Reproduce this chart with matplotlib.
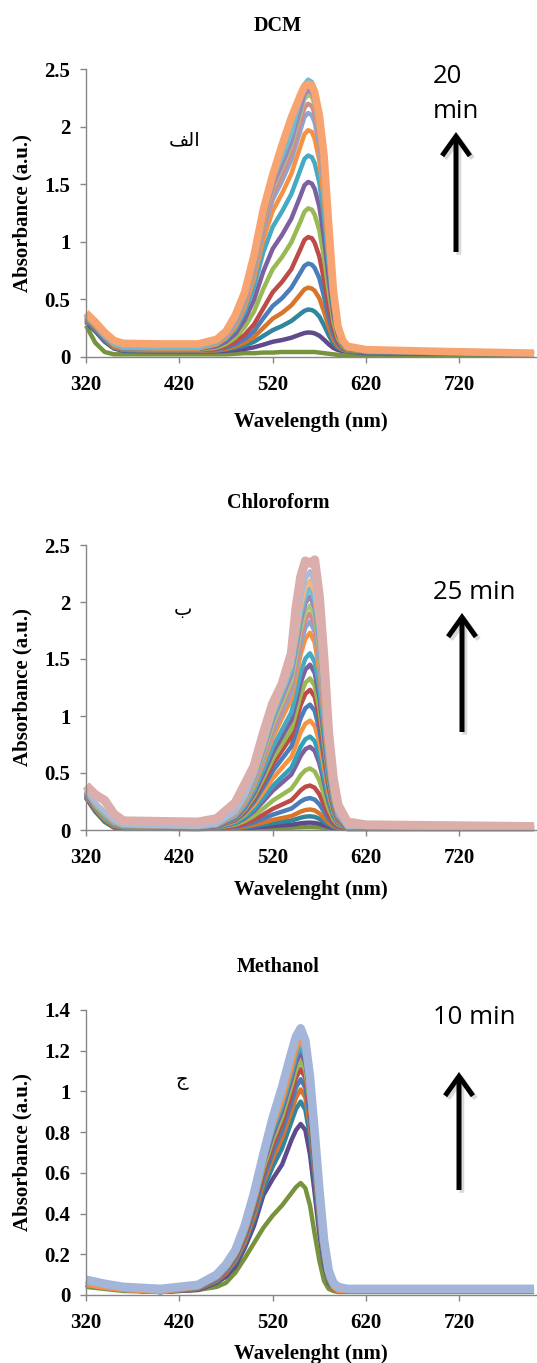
#!/usr/bin/env python
"""
Time-resolved UV-Vis spectra in three solvents (DCM, chloroform, methanol).
Three stacked panels, one line per scan, last scan drawn thick on top.
"""
import matplotlib
matplotlib.use("Agg")
import matplotlib.pyplot as plt
import matplotlib.patheffects as pe
from matplotlib.patches import FancyArrowPatch

# ── axis / text data ─────────────────────────────────────────────
xticks = [320, 420, 520, 620, 720]
yticks_25 = [0, 0.5, 1, 1.5, 2, 2.5]
yticklabels_25 = ["0", "0.5", "1", "1.5", "2", "2.5"]
yticks_14 = [0, 0.2, 0.4, 0.6, 0.8, 1.0, 1.2, 1.4]
yticklabels_14 = ["0", "0.2", "0.4", "0.6", "0.8", "1", "1.2", "1.4"]

titles = ["DCM", "Chloroform", "Methanol"]
xlabels = ["Wavelength (nm)", "Wavelenght (nm)", "Wavelenght (nm)"]
ylabel = "Absorbance (a.u.)"
time_labels = [["20", "min"], ["25 min"], ["10 min"]]
# panel letters (alef-lam-feh is given in its joined display forms,
# matplotlib does not shape Arabic itself)
panel_letters = ["\ufed2\ufedf\ufe8d", "ب", "ج"]

# ── DCM: 16 scans ────────────────────────────────────────────────
dcm_wl = [320, 330, 340, 350, 360, 400, 440, 460, 470, 480, 490, 500, 510, 520,
          530, 540, 550, 554, 558, 562, 565, 570, 575, 580, 585, 590, 595, 600,
          620, 700, 800]
dcm_abs = [
    [0.27, 0.12, 0.04, 0.02, 0.02, 0.02, 0.02, 0.02, 0.02, 0.025, 0.03, 0.03, 0.035, 0.035,
     0.04, 0.04, 0.04, 0.04, 0.04, 0.04, 0.04, 0.035, 0.03, 0.025, 0.02, 0.015, 0.01, 0.01,
     0.01, 0.01, 0.01],
    [0.30, 0.22, 0.13, 0.07, 0.05, 0.045, 0.045, 0.047, 0.05, 0.057, 0.066, 0.081, 0.104, 0.129,
     0.144, 0.164, 0.194, 0.205, 0.21, 0.208, 0.202, 0.182, 0.147, 0.108, 0.075, 0.057, 0.048, 0.045,
     0.03, 0.025, 0.02],
    [0.31, 0.23, 0.14, 0.08, 0.055, 0.05, 0.05, 0.054, 0.061, 0.075, 0.097, 0.129, 0.18, 0.23,
     0.266, 0.31, 0.374, 0.398, 0.41, 0.405, 0.392, 0.349, 0.273, 0.187, 0.115, 0.075, 0.057, 0.05,
     0.035, 0.03, 0.02],
    [0.32, 0.24, 0.15, 0.08, 0.06, 0.05, 0.05, 0.055, 0.067, 0.089, 0.122, 0.171, 0.25, 0.33,
     0.38, 0.446, 0.545, 0.585, 0.60, 0.592, 0.573, 0.507, 0.391, 0.259, 0.149, 0.089, 0.061, 0.05,
     0.04, 0.03, 0.02],
    [0.32, 0.24, 0.15, 0.09, 0.06, 0.055, 0.055, 0.063, 0.078, 0.108, 0.153, 0.221, 0.334, 0.44,
     0.508, 0.599, 0.735, 0.79, 0.81, 0.80, 0.772, 0.682, 0.523, 0.342, 0.191, 0.108, 0.07, 0.055,
     0.04, 0.03, 0.02],
    [0.33, 0.25, 0.16, 0.09, 0.065, 0.06, 0.06, 0.07, 0.09, 0.13, 0.19, 0.28, 0.42, 0.56,
     0.65, 0.76, 0.94, 1.015, 1.04, 1.03, 0.99, 0.87, 0.67, 0.43, 0.24, 0.13, 0.08, 0.06,
     0.045, 0.035, 0.025],
    [0.33, 0.25, 0.16, 0.09, 0.065, 0.06, 0.06, 0.078, 0.109, 0.165, 0.257, 0.392, 0.589, 0.761,
     0.866, 0.995, 1.179, 1.26, 1.29, 1.278, 1.235, 1.099, 0.86, 0.564, 0.306, 0.158, 0.091, 0.06,
     0.045, 0.035, 0.025],
    [0.34, 0.25, 0.16, 0.095, 0.07, 0.065, 0.065, 0.091, 0.13, 0.199, 0.32, 0.494, 0.742, 0.938,
     1.059, 1.2, 1.404, 1.49, 1.52, 1.505, 1.459, 1.305, 1.033, 0.683, 0.371, 0.189, 0.106, 0.065,
     0.05, 0.035, 0.025],
    [0.34, 0.26, 0.17, 0.10, 0.075, 0.07, 0.07, 0.104, 0.154, 0.238, 0.389, 0.608, 0.91, 1.128,
     1.263, 1.414, 1.632, 1.72, 1.75, 1.735, 1.683, 1.515, 1.212, 0.809, 0.44, 0.221, 0.12, 0.07,
     0.05, 0.04, 0.025],
    [0.35, 0.26, 0.17, 0.10, 0.075, 0.07, 0.07, 0.108, 0.165, 0.26, 0.431, 0.678, 1.02, 1.267,
     1.419, 1.59, 1.837, 1.935, 1.97, 1.955, 1.894, 1.704, 1.362, 0.906, 0.488, 0.241, 0.127, 0.07,
     0.05, 0.04, 0.03],
    [0.35, 0.27, 0.17, 0.11, 0.085, 0.08, 0.08, 0.121, 0.182, 0.284, 0.468, 0.733, 1.1, 1.365,
     1.528, 1.712, 1.977, 2.085, 2.12, 2.10, 2.038, 1.834, 1.467, 0.978, 0.529, 0.264, 0.141, 0.08,
     0.055, 0.04, 0.03],
    [0.35, 0.27, 0.18, 0.11, 0.085, 0.08, 0.08, 0.122, 0.186, 0.292, 0.483, 0.758, 1.14, 1.416,
     1.585, 1.776, 2.052, 2.165, 2.20, 2.18, 2.115, 1.903, 1.522, 1.013, 0.546, 0.271, 0.144, 0.08,
     0.055, 0.04, 0.03],
    [0.36, 0.27, 0.18, 0.11, 0.085, 0.08, 0.08, 0.124, 0.19, 0.30, 0.498, 0.784, 1.18, 1.466,
     1.642, 1.84, 2.126, 2.24, 2.28, 2.26, 2.192, 1.972, 1.576, 1.048, 0.564, 0.278, 0.146, 0.08,
     0.055, 0.04, 0.03],
    [0.36, 0.27, 0.18, 0.11, 0.085, 0.08, 0.08, 0.125, 0.192, 0.304, 0.506, 0.797, 1.20, 1.491,
     1.67, 1.872, 2.163, 2.28, 2.32, 2.30, 2.23, 2.006, 1.603, 1.066, 0.573, 0.282, 0.147, 0.08,
     0.055, 0.04, 0.03],
    [0.36, 0.28, 0.18, 0.11, 0.085, 0.08, 0.08, 0.127, 0.197, 0.313, 0.523, 0.826, 1.245, 1.548,
     1.734, 1.944, 2.247, 2.37, 2.41, 2.39, 2.317, 2.084, 1.664, 1.105, 0.593, 0.29, 0.15, 0.08,
     0.055, 0.04, 0.03],
    [0.38, 0.30, 0.21, 0.14, 0.115, 0.11, 0.11, 0.15, 0.22, 0.36, 0.56, 0.88, 1.28, 1.58,
     1.84, 2.08, 2.28, 2.35, 2.37, 2.36, 2.30, 2.10, 1.75, 1.15, 0.58, 0.26, 0.14, 0.09,
     0.06, 0.045, 0.03],
]
dcm_colors = ["#77933C", "#5F4B8B", "#31859C", "#D9742B", "#4A7EBB", "#BE4B48",
              "#98B954", "#7D60A0", "#46AAC5", "#F69240", "#8EA5D3", "#D48A88",
              "#A9C47F", "#9B89BC", "#6FBDD3", "#F7A470"]

# ── Chloroform: 24 scans ─────────────────────────────────────────
chl_wl = [320, 330, 340, 350, 360, 440, 460, 480, 490, 500, 510, 520, 530, 540,
          545, 550, 555, 560, 565, 570, 575, 580, 585, 590, 600, 620, 800]
chl_abs = [
    [0.28, 0.16, 0.07, 0.02, 0.01, 0.01, 0.01, 0.011, 0.012, 0.013, 0.015, 0.017, 0.018, 0.02,
     0.022, 0.023, 0.025, 0.025, 0.024, 0.022, 0.018, 0.015, 0.012, 0.011, 0.01, 0.01, 0.01],
    [0.29, 0.17, 0.08, 0.025, 0.012, 0.01, 0.011, 0.013, 0.017, 0.022, 0.028, 0.035, 0.041, 0.046,
     0.052, 0.059, 0.063, 0.065, 0.062, 0.054, 0.041, 0.028, 0.018, 0.013, 0.01, 0.01, 0.01],
    [0.29, 0.17, 0.08, 0.025, 0.012, 0.01, 0.011, 0.017, 0.023, 0.033, 0.046, 0.061, 0.072, 0.083,
     0.095, 0.108, 0.117, 0.12, 0.115, 0.098, 0.072, 0.045, 0.027, 0.017, 0.01, 0.01, 0.01],
    [0.30, 0.18, 0.09, 0.03, 0.012, 0.01, 0.012, 0.02, 0.03, 0.046, 0.066, 0.088, 0.105, 0.122,
     0.141, 0.161, 0.175, 0.18, 0.172, 0.146, 0.105, 0.064, 0.036, 0.02, 0.01, 0.01, 0.01],
    [0.30, 0.18, 0.09, 0.03, 0.012, 0.01, 0.013, 0.026, 0.042, 0.067, 0.099, 0.134, 0.161, 0.188,
     0.218, 0.25, 0.272, 0.28, 0.267, 0.226, 0.161, 0.096, 0.051, 0.026, 0.01, 0.01, 0.01],
    [0.30, 0.18, 0.10, 0.03, 0.012, 0.01, 0.014, 0.033, 0.056, 0.09, 0.135, 0.185, 0.223, 0.261,
     0.303, 0.348, 0.379, 0.39, 0.371, 0.314, 0.223, 0.132, 0.067, 0.033, 0.01, 0.01, 0.01],
    [0.31, 0.19, 0.10, 0.04, 0.025, 0.015, 0.02, 0.047, 0.078, 0.125, 0.188, 0.257, 0.309, 0.362,
     0.419, 0.482, 0.524, 0.54, 0.514, 0.435, 0.309, 0.183, 0.094, 0.047, 0.015, 0.02, 0.02],
    [0.31, 0.19, 0.10, 0.04, 0.025, 0.015, 0.022, 0.058, 0.101, 0.165, 0.251, 0.344, 0.415, 0.487,
     0.566, 0.651, 0.709, 0.73, 0.694, 0.587, 0.415, 0.244, 0.122, 0.058, 0.015, 0.02, 0.02],
    [0.31, 0.19, 0.10, 0.04, 0.025, 0.015, 0.023, 0.063, 0.112, 0.184, 0.281, 0.385, 0.466, 0.546,
     0.635, 0.731, 0.796, 0.82, 0.78, 0.659, 0.466, 0.273, 0.136, 0.063, 0.015, 0.02, 0.02],
    [0.31, 0.19, 0.10, 0.04, 0.025, 0.02, 0.029, 0.076, 0.133, 0.217, 0.33, 0.452, 0.546, 0.64,
     0.744, 0.857, 0.932, 0.96, 0.913, 0.772, 0.546, 0.321, 0.161, 0.076, 0.02, 0.02, 0.02],
    [0.32, 0.20, 0.11, 0.045, 0.025, 0.02, 0.031, 0.085, 0.15, 0.247, 0.376, 0.517, 0.625, 0.733,
     0.852, 0.981, 1.068, 1.10, 1.046, 0.884, 0.625, 0.366, 0.182, 0.085, 0.02, 0.02, 0.02],
    [0.32, 0.20, 0.11, 0.045, 0.025, 0.02, 0.032, 0.093, 0.165, 0.274, 0.419, 0.577, 0.698, 0.819,
     0.952, 1.097, 1.194, 1.23, 1.17, 0.988, 0.698, 0.407, 0.202, 0.093, 0.02, 0.02, 0.02],
    [0.32, 0.20, 0.11, 0.045, 0.025, 0.02, 0.033, 0.099, 0.177, 0.295, 0.452, 0.623, 0.754, 0.885,
     1.029, 1.186, 1.291, 1.33, 1.265, 1.068, 0.754, 0.439, 0.217, 0.099, 0.02, 0.02, 0.02],
    [0.32, 0.20, 0.12, 0.05, 0.03, 0.02, 0.034, 0.106, 0.192, 0.32, 0.492, 0.678, 0.821, 0.964,
     1.121, 1.293, 1.407, 1.45, 1.379, 1.164, 0.821, 0.478, 0.235, 0.106, 0.02, 0.02, 0.02],
    [0.33, 0.21, 0.12, 0.05, 0.03, 0.025, 0.04, 0.117, 0.208, 0.345, 0.528, 0.727, 0.879, 1.032,
     1.199, 1.382, 1.504, 1.55, 1.474, 1.245, 0.879, 0.513, 0.254, 0.117, 0.025, 0.025, 0.02],
    [0.33, 0.21, 0.13, 0.06, 0.035, 0.025, 0.042, 0.127, 0.23, 0.383, 0.588, 0.809, 0.98, 1.15,
     1.338, 1.542, 1.679, 1.73, 1.645, 1.389, 0.98, 0.571, 0.281, 0.127, 0.025, 0.025, 0.02],
    [0.33, 0.22, 0.14, 0.07, 0.04, 0.025, 0.043, 0.133, 0.242, 0.404, 0.621, 0.855, 1.036, 1.216,
     1.415, 1.631, 1.776, 1.83, 1.74, 1.469, 1.036, 0.603, 0.296, 0.133, 0.025, 0.03, 0.025],
    [0.34, 0.22, 0.14, 0.07, 0.04, 0.03, 0.049, 0.142, 0.254, 0.423, 0.647, 0.89, 1.077, 1.264,
     1.47, 1.694, 1.844, 1.90, 1.807, 1.526, 1.077, 0.628, 0.311, 0.142, 0.03, 0.03, 0.025],
    [0.34, 0.22, 0.14, 0.07, 0.04, 0.03, 0.049, 0.146, 0.263, 0.437, 0.67, 0.922, 1.116, 1.31,
     1.524, 1.757, 1.912, 1.97, 1.873, 1.582, 1.116, 0.651, 0.321, 0.146, 0.03, 0.03, 0.025],
    [0.34, 0.23, 0.15, 0.07, 0.04, 0.03, 0.05, 0.151, 0.272, 0.454, 0.697, 0.959, 1.161, 1.363,
     1.585, 1.828, 1.989, 2.05, 1.949, 1.646, 1.161, 0.676, 0.333, 0.151, 0.03, 0.035, 0.03],
    [0.35, 0.23, 0.15, 0.07, 0.04, 0.03, 0.051, 0.155, 0.281, 0.469, 0.72, 0.991, 1.2, 1.409,
     1.639, 1.89, 2.057, 2.12, 2.016, 1.702, 1.2, 0.699, 0.344, 0.155, 0.03, 0.035, 0.03],
    [0.35, 0.24, 0.16, 0.08, 0.045, 0.03, 0.052, 0.16, 0.289, 0.484, 0.743, 1.024, 1.24, 1.456,
     1.693, 1.952, 2.125, 2.19, 2.082, 1.758, 1.24, 0.721, 0.354, 0.16, 0.03, 0.035, 0.03],
    [0.35, 0.24, 0.16, 0.08, 0.045, 0.03, 0.052, 0.164, 0.299, 0.50, 0.769, 1.06, 1.284, 1.508,
     1.755, 2.024, 2.203, 2.27, 2.158, 1.822, 1.284, 0.747, 0.366, 0.164, 0.03, 0.035, 0.03],
    [0.39, 0.31, 0.26, 0.14, 0.08, 0.07, 0.10, 0.24, 0.40, 0.56, 0.85, 1.11, 1.28, 1.55,
     1.95, 2.22, 2.36, 2.34, 2.37, 2.05, 1.50, 0.85, 0.45, 0.22, 0.07, 0.045, 0.03],
]
chl_colors = ["#77933C", "#5F4B8B", "#31859C", "#D9742B", "#4A7EBB", "#BE4B48",
              "#98B954", "#7D60A0", "#31A0B8", "#F69240", "#4A7EBB", "#BE4B48",
              "#98B954", "#7D60A0", "#46AAC5", "#F69240", "#8EA5D3", "#D48A88",
              "#A9C47F", "#9B89BC", "#6FBDD3", "#F9B37E", "#A6BCDD", "#DBAEAC"]

# ── Methanol: 11 scans ───────────────────────────────────────────
met_wl = [320, 340, 360, 400, 440, 460, 470, 480, 490, 500, 510, 520, 530,
          540, 545, 550, 555, 560, 565, 570, 575, 580, 585, 590, 600, 700, 800]
met_abs = [
    [0.04, 0.03, 0.02, 0.015, 0.025, 0.04, 0.06, 0.11, 0.18, 0.255, 0.33, 0.39, 0.44,
     0.50, 0.53, 0.55, 0.525, 0.44, 0.30, 0.17, 0.07, 0.03, 0.02, 0.015, 0.015, 0.015, 0.015],
    [0.05, 0.035, 0.025, 0.015, 0.025, 0.06, 0.09, 0.14, 0.23, 0.34, 0.49, 0.57, 0.64,
     0.76, 0.81, 0.84, 0.81, 0.69, 0.50, 0.30, 0.15, 0.06, 0.03, 0.02, 0.02, 0.02, 0.02],
    [0.05, 0.035, 0.025, 0.015, 0.03, 0.066, 0.105, 0.16, 0.25, 0.37, 0.52, 0.63, 0.72,
     0.85, 0.915, 0.95, 0.91, 0.78, 0.57, 0.34, 0.17, 0.067, 0.03, 0.02, 0.02, 0.02, 0.02],
    [0.05, 0.035, 0.025, 0.015, 0.03, 0.07, 0.11, 0.17, 0.26, 0.39, 0.55, 0.67, 0.77,
     0.90, 0.97, 1.01, 0.97, 0.83, 0.61, 0.36, 0.18, 0.07, 0.03, 0.02, 0.02, 0.02, 0.02],
    [0.05, 0.035, 0.025, 0.015, 0.032, 0.074, 0.117, 0.18, 0.276, 0.413, 0.572, 0.70, 0.806,
     0.943, 1.02, 1.06, 1.018, 0.869, 0.636, 0.382, 0.191, 0.074, 0.032, 0.02, 0.02, 0.02, 0.02],
    [0.05, 0.035, 0.025, 0.015, 0.033, 0.078, 0.122, 0.189, 0.289, 0.433, 0.60, 0.733, 0.844,
     0.988, 1.068, 1.11, 1.066, 0.91, 0.666, 0.40, 0.20, 0.078, 0.033, 0.02, 0.02, 0.02, 0.02],
    [0.05, 0.035, 0.025, 0.015, 0.035, 0.081, 0.127, 0.196, 0.299, 0.449, 0.621, 0.759, 0.874,
     1.024, 1.106, 1.15, 1.104, 0.943, 0.69, 0.414, 0.207, 0.081, 0.035, 0.02, 0.02, 0.02, 0.02],
    [0.05, 0.035, 0.025, 0.015, 0.036, 0.083, 0.131, 0.202, 0.309, 0.464, 0.643, 0.785, 0.904,
     1.059, 1.145, 1.19, 1.142, 0.976, 0.714, 0.428, 0.214, 0.083, 0.036, 0.02, 0.02, 0.02, 0.02],
    [0.05, 0.035, 0.025, 0.015, 0.037, 0.085, 0.134, 0.207, 0.317, 0.476, 0.659, 0.805, 0.927,
     1.086, 1.174, 1.22, 1.171, 1.0, 0.732, 0.439, 0.22, 0.085, 0.037, 0.02, 0.02, 0.02, 0.02],
    [0.05, 0.035, 0.025, 0.015, 0.038, 0.088, 0.138, 0.213, 0.325, 0.488, 0.675, 0.825, 0.95,
     1.113, 1.203, 1.25, 1.20, 1.025, 0.75, 0.45, 0.225, 0.088, 0.038, 0.02, 0.02, 0.02, 0.02],
    [0.075, 0.055, 0.04, 0.03, 0.05, 0.10, 0.15, 0.22, 0.34, 0.50, 0.69, 0.87, 1.02,
     1.19, 1.27, 1.31, 1.25, 1.07, 0.80, 0.52, 0.27, 0.12, 0.06, 0.04, 0.03, 0.03, 0.03],
]
met_colors = ["#77933C", "#5F4B8B", "#31859C", "#D9742B", "#4A7EBB", "#BE4B48",
              "#98B954", "#7D60A0", "#46AAC5", "#F69240", "#A3B6D9"]

# ── layout (pixel positions in a 537 x 1363 canvas) ─────────────
W, H = 537, 1363
SERIF = "Liberation Serif"
SANS = "Open Sans"
GREY = "#868686"

fig = plt.figure(figsize=(W / 100, H / 100), dpi=100)


def fx(x):
    return x / W


def fy(y):
    return 1 - y / H


def draw_panel(top, bottom, wl, curves, colors, top_lw, yticks, yticklabels, ymax):
    ax = fig.add_axes([fx(86), fy(bottom), 1 - fx(86), fy(top) - fy(bottom)])
    n = len(curves)
    for i, (vals, c) in enumerate(zip(curves, colors)):
        lw = top_lw if i == n - 1 else 3.2
        ax.plot(wl, vals, color=c, lw=lw, solid_joinstyle="round",
                solid_capstyle="butt", clip_on=False, zorder=2 + i * 0.01)
    ax.set_xlim(320, 803.2)
    ax.set_ylim(0, ymax)
    ax.set_xticks(xticks)
    ax.set_xticklabels([str(t) for t in xticks])
    ax.set_yticks(yticks)
    ax.set_yticklabels(yticklabels)
    for s in ("top", "right"):
        ax.spines[s].set_visible(False)
    for s in ("left", "bottom"):
        ax.spines[s].set_color(GREY)
        ax.spines[s].set_linewidth(1.0)
    ax.tick_params(axis="both", direction="out", length=4.3, width=1.0, color=GREY)
    ax.tick_params(axis="x", pad=9.0)
    ax.tick_params(axis="y", pad=7.0)
    for lab in ax.get_xticklabels() + ax.get_yticklabels():
        lab.set_fontfamily(SERIF)
        lab.set_fontweight("bold")
        lab.set_fontsize(15)
    ax.patch.set_alpha(0)
    return ax


def arrow(x, y_tail, y_tip):
    a = FancyArrowPatch((fx(x), fy(y_tail)), (fx(x), fy(y_tip)),
                        transform=fig.transFigure,
                        arrowstyle="->,head_length=14,head_width=10",
                        mutation_scale=1, lw=3.6, color="black",
                        shrinkA=0, shrinkB=0, joinstyle="miter", capstyle="butt")
    a.set_path_effects([pe.SimpleLineShadow(offset=(2, -2), shadow_color="black", alpha=0.15),
                        pe.Normal()])
    fig.add_artist(a)


panels = [
    dict(top=69.3, bottom=356.6, wl=dcm_wl, curves=dcm_abs, colors=dcm_colors, top_lw=5.5,
         yticks=yticks_25, yticklabels=yticklabels_25, ymax=2.5,
         title_y=31, xlabel_y=427, letter=(185, 140), arrow=(456, 252, 132)),
    dict(top=545, bottom=830, wl=chl_wl, curves=chl_abs, colors=chl_colors, top_lw=6.5,
         yticks=yticks_25, yticklabels=yticklabels_25, ymax=2.5,
         title_y=508, xlabel_y=895, letter=(183, 609), arrow=(462, 732, 613)),
    dict(top=1010, bottom=1295, wl=met_wl, curves=met_abs, colors=met_colors, top_lw=6.2,
         yticks=yticks_14, yticklabels=yticklabels_14, ymax=1.4,
         title_y=972, xlabel_y=1359, letter=(182, 1081), arrow=(459, 1190, 1072)),
]

for k, p in enumerate(panels):
    draw_panel(p["top"], p["bottom"], p["wl"], p["curves"], p["colors"], p["top_lw"],
               p["yticks"], p["yticklabels"], p["ymax"])
    fig.text(fx(278), fy(p["title_y"]), titles[k], family=SERIF, weight="bold",
             fontsize=14.5, ha="center", va="baseline")
    fig.text(fx(311), fy(p["xlabel_y"]), xlabels[k], family=SERIF, weight="bold",
             fontsize=15, ha="center", va="baseline")
    fig.text(fx(22), fy((p["top"] + p["bottom"]) / 2), ylabel, family=SERIF, weight="bold",
             fontsize=15, ha="center", va="center", rotation=90)
    lx, ly = p["letter"]
    fig.text(fx(lx), fy(ly), panel_letters[k], family="DejaVu Sans", fontsize=14,
             ha="center", va="center")
    arrow(*p["arrow"])

# time stamp next to the arrow
fig.text(fx(433), fy(83), time_labels[0][0], family=SANS, fontsize=18.5, va="baseline")
fig.text(fx(433), fy(118), time_labels[0][1], family=SANS, fontsize=18.5, va="baseline")
fig.text(fx(433), fy(599), time_labels[1][0], family=SANS, fontsize=18.5, va="baseline")
fig.text(fx(433), fy(1024), time_labels[2][0], family=SANS, fontsize=18.5, va="baseline")

fig.savefig("out.png", dpi=100, facecolor="white")
